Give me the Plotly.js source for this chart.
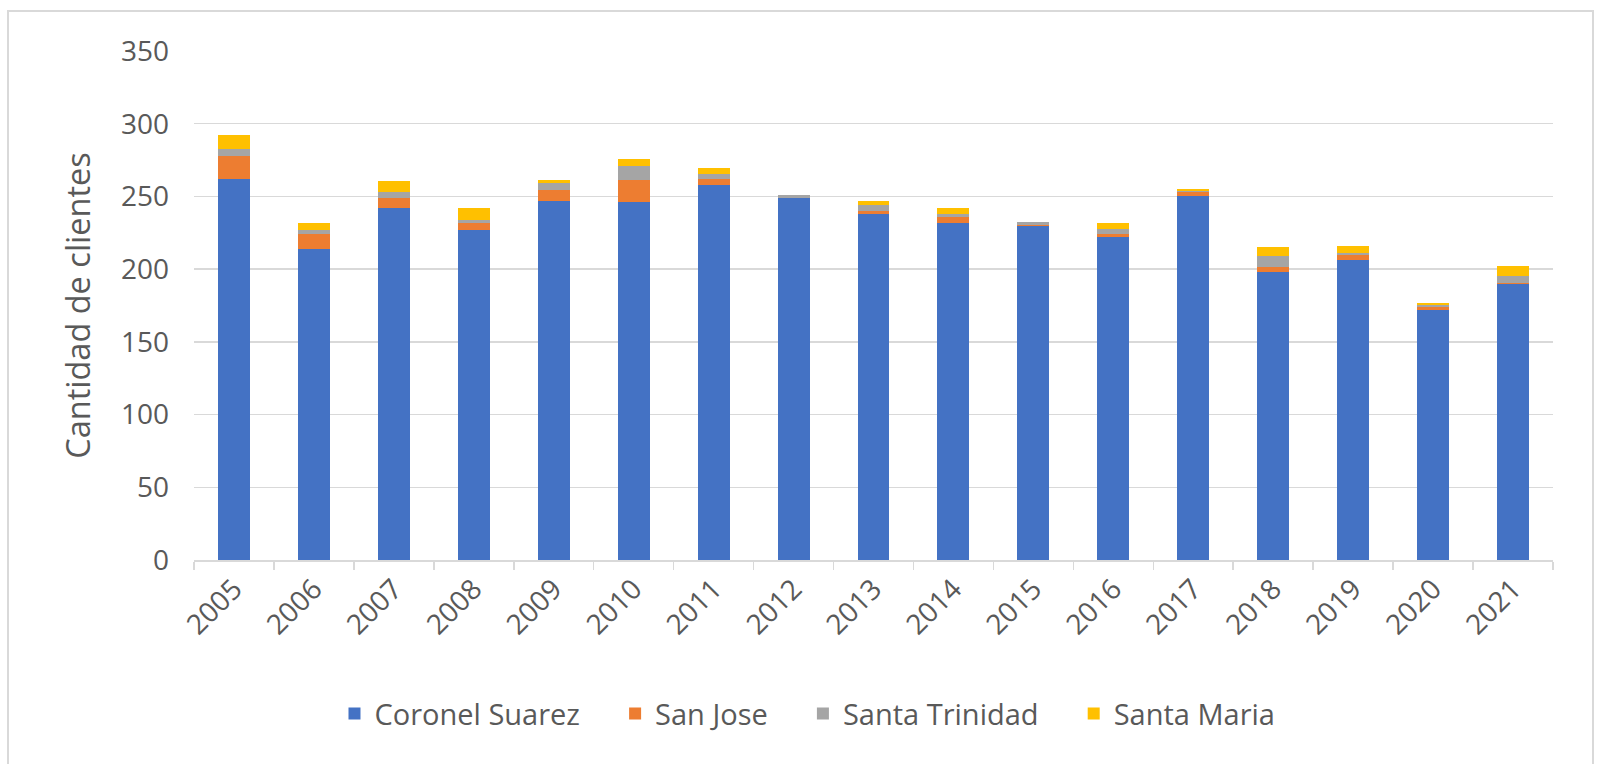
<!DOCTYPE html>
<html>
<head>
<meta charset="utf-8">
<script src="https://cdn.plot.ly/plotly-3.0.1.min.js"></script>
<style>
html,body{margin:0;padding:0;background:#fff;}
#chart{width:1599px;height:764px;}
</style>
</head>
<body>
<div id="chart"></div>
<script>
const years = ["2005","2006","2007","2008","2009","2010","2011","2012","2013","2014","2015","2016","2017","2018","2019","2020","2021"];
const coronelSuarez = [262,214,242,227,247,246,258,248.6,238,232,230,222,250,198,206.5,172,190];
const sanJose       = [16,10,7,5,7.5,15,3.7,0.5,2,4,0.5,2,3,3.5,3,2.3,0.5];
const santaTrinidad = [4.5,3,4,2,5,10,3.4,2,4,2,2,3.5,1,7.5,1.6,1.3,5];
const santaMaria    = [10,5,7.5,8,1.5,5,4.4,0,3,4,0,4,1,6,5,1.4,7];
const seriesNames = ["Coronel Suarez","San Jose","Santa Trinidad","Santa Maria"];
const seriesColors = ["#4472C4","#ED7D31","#A5A5A5","#FFC000"];
const seriesValues = [coronelSuarez, sanJose, santaTrinidad, santaMaria];

const pad = "\u00a0\u00a0\u00a0\u00a0";
const traces = seriesValues.map((v,i)=>({
  type:"bar", x:years, y:v,
  name: seriesNames[i] + (i < seriesNames.length-1 ? pad : ""),
  marker:{color:seriesColors[i], line:{width:0}},
  hoverinfo:"skip"
}));

const W=1599,H=764, L=194, R=46, T=51, B=204;
const pw=W-L-R, ph=H-T-B;
const px=(x)=>(x-L)/pw, py=(y)=>(H-B-y)/ph;
const font="'Open Sans', 'Noto Sans', sans-serif";

const layout = {
  width:W, height:H,
  margin:{l:L,r:R,t:T,b:B},
  paper_bgcolor:"#ffffff", plot_bgcolor:"#ffffff",
  barmode:"stack", bargap:0.6,
  font:{family:font, color:"#595959", size:28},
  showlegend:true,
  legend:{orientation:"h", xref:"container", yref:"container", x:0.505, xanchor:"center", y:0.066, yanchor:"middle",
          font:{size:29,color:"#595959"}, traceorder:"normal", itemwidth:30},
  xaxis:{type:"category", tickangle:-45, showgrid:false, showline:true, linecolor:"#d9d9d9", linewidth:1.5,
         ticks:"outside", tickson:"boundaries", ticklen:8, tickcolor:"#d9d9d9", tickwidth:1.5,
         tickfont:{size:28,color:"#595959"}, fixedrange:true},
  yaxis:{range:[0,350], dtick:50, showgrid:true, gridcolor:"#d9d9d9", gridwidth:1.5, zeroline:false, showline:false,
         ticks:"", ticklabelstandoff:24, tickfont:{size:28,color:"#595959"},
         title:{text:"Cantidad de clientes", font:{size:32.5,color:"#595959"}, standoff:20}, fixedrange:true},
  shapes:[{type:"rect", xref:"paper", yref:"paper", x0:px(8), x1:px(1593), y0:py(766), y1:py(11),
           line:{color:"#d9d9d9", width:2}, fillcolor:"rgba(0,0,0,0)", layer:"below"}]
};
Plotly.newPlot("chart", traces, layout, {displayModeBar:false, staticPlot:true});
</script>
</body>
</html>
